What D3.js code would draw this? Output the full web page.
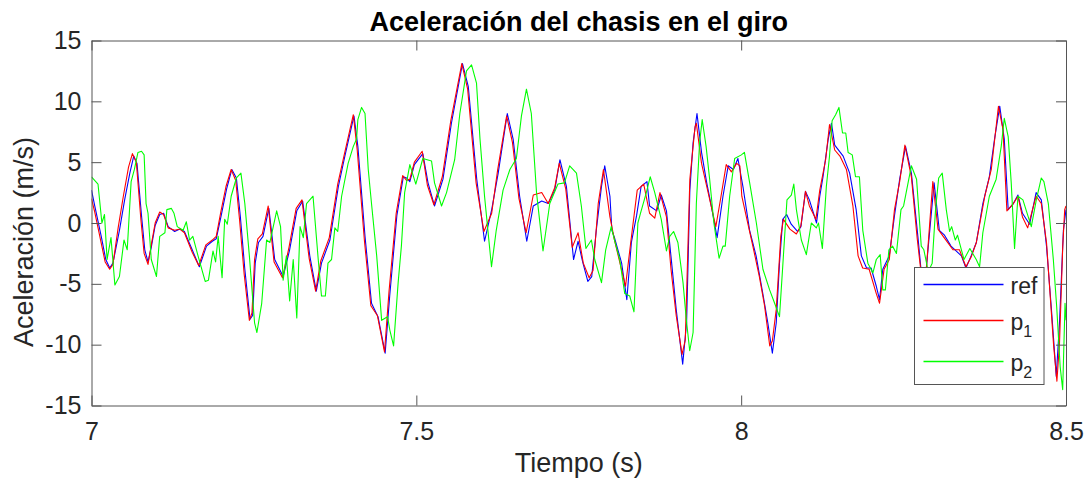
<!DOCTYPE html>
<html>
<head>
<meta charset="utf-8">
<script src="https://cdn.jsdelivr.net/npm/d3@7"></script>
<style>
  body { margin: 0; background: #fff; }
  svg { display: block; font-family: "Liberation Sans", Arial, Helvetica, sans-serif; }
</style>
</head>
<body>
<div id="chart"></div>
<script>
// values (time in s, acceleration in m/s)
var refTime = [7.000, 7.005, 7.015, 7.022, 7.028, 7.033, 7.043, 7.051, 7.059, 7.065, 7.070, 7.077, 7.082, 7.087, 7.092, 7.098, 7.105, 7.111, 7.118, 7.128, 7.136, 7.143, 7.155, 7.166, 7.177, 7.186, 7.192, 7.200, 7.208, 7.216, 7.223, 7.229, 7.236, 7.244, 7.248, 7.252, 7.257, 7.264, 7.273, 7.282, 7.295, 7.305, 7.316, 7.325, 7.336, 7.346, 7.354, 7.367, 7.380, 7.390, 7.404, 7.410, 7.421, 7.431, 7.441, 7.452, 7.459, 7.470, 7.480, 7.485, 7.490, 7.497, 7.510, 7.518, 7.528, 7.541, 7.554, 7.571, 7.580, 7.593, 7.605, 7.616, 7.626, 7.640, 7.649, 7.659, 7.670, 7.680, 7.693, 7.703, 7.713, 7.721, 7.731, 7.742, 7.749, 7.756, 7.764, 7.770, 7.777, 7.785, 7.790, 7.798, 7.801, 7.805, 7.816, 7.824, 7.831, 7.839, 7.846, 7.855, 7.859, 7.870, 7.877, 7.885, 7.893, 7.900, 7.910, 7.916, 7.921, 7.926, 7.932, 7.939, 7.947, 7.954, 7.963, 7.972, 7.980, 7.988, 7.995, 8.003, 8.013, 8.023, 8.034, 8.041, 8.048, 8.054, 8.059, 8.064, 8.070, 8.077, 8.087, 8.092, 8.099, 8.105, 8.116, 8.121, 8.126, 8.134, 8.139, 8.144, 8.157, 8.167, 8.177, 8.185, 8.193, 8.200, 8.208, 8.213, 8.218, 8.228, 8.236, 8.244, 8.253, 8.262, 8.272, 8.278, 8.285, 8.297, 8.305, 8.313, 8.323, 8.339, 8.346, 8.354, 8.362, 8.372, 8.382, 8.390, 8.398, 8.405, 8.411, 8.419, 8.426, 8.433, 8.444, 8.454, 8.462, 8.470, 8.478, 8.485, 8.490, 8.496, 8.500];
var refAccel = [2.7, 1.4, -1.1, -3.0, -3.7, -3.3, -0.6, 1.9, 4.1, 5.5, 4.9, 0.6, -2.2, -3.2, -2.0, -0.2, 0.7, 0.8, -0.3, -0.7, -0.5, -0.7, -2.2, -3.6, -1.9, -1.5, -1.3, 0.7, 2.8, 4.4, 3.7, 0.6, -3.8, -7.9, -7.6, -3.3, -1.6, -1.1, 1.2, -3.0, -4.4, -2.2, 1.0, 1.8, -2.7, -5.6, -3.3, -1.4, 3.0, 5.5, 8.8, 6.3, -1.1, -6.6, -7.7, -10.7, -6.0, 0.6, 3.8, 3.7, 3.4, 4.8, 5.7, 3.3, 1.4, 3.6, 8.2, 13.1, 11.2, 3.6, -1.5, 1.1, 4.1, 9.0, 6.9, 2.2, -1.5, 1.4, 1.8, 1.6, 2.7, 5.2, 3.0, -3.0, -1.5, -3.2, -4.8, -4.4, -0.6, 3.0, 4.7, 2.2, -0.6, -1.2, -3.3, -6.3, -1.6, 0.6, 3.0, 3.4, 1.4, 1.0, 2.3, 1.0, -3.3, -7.1, -11.6, -8.2, 2.7, 6.6, 9.0, 5.8, 3.3, 1.4, -1.2, 2.2, 4.7, 4.4, 5.3, 2.9, -0.6, -2.7, -6.0, -8.2, -10.7, -8.2, -3.3, 0.3, 0.7, -0.1, -0.7, -0.3, 2.6, 1.9, 0.0, 2.2, 3.8, 6.9, 8.2, 6.4, 5.5, 4.1, 1.1, -2.7, -3.7, -3.7, -5.2, -6.3, -3.8, -2.7, 0.6, 3.6, 6.3, 4.1, -1.1, -4.5, -3.7, 3.3, -0.6, -1.0, -1.9, -2.7, -3.7, -2.7, -1.6, 1.6, 3.8, 6.9, 9.6, 6.9, 1.1, 1.6, 2.3, 0.8, -0.1, 2.5, 1.9, -1.9, -7.4, -12.6, -8.2, -0.6, 1.1];

var p1Time = [7.000, 7.005, 7.014, 7.021, 7.028, 7.033, 7.041, 7.049, 7.057, 7.063, 7.069, 7.076, 7.081, 7.087, 7.092, 7.098, 7.105, 7.111, 7.118, 7.128, 7.136, 7.143, 7.155, 7.165, 7.176, 7.186, 7.192, 7.199, 7.207, 7.215, 7.222, 7.228, 7.235, 7.243, 7.247, 7.251, 7.256, 7.263, 7.272, 7.281, 7.294, 7.304, 7.315, 7.324, 7.335, 7.345, 7.353, 7.366, 7.379, 7.389, 7.403, 7.409, 7.420, 7.430, 7.440, 7.451, 7.458, 7.469, 7.479, 7.485, 7.490, 7.497, 7.509, 7.517, 7.527, 7.540, 7.553, 7.570, 7.579, 7.592, 7.604, 7.616, 7.625, 7.639, 7.648, 7.658, 7.669, 7.680, 7.693, 7.703, 7.713, 7.720, 7.730, 7.740, 7.749, 7.757, 7.766, 7.772, 7.780, 7.788, 7.798, 7.805, 7.822, 7.830, 7.840, 7.850, 7.859, 7.867, 7.875, 7.885, 7.892, 7.900, 7.909, 7.914, 7.921, 7.929, 7.931, 7.939, 7.947, 7.961, 7.969, 7.977, 7.985, 7.993, 7.998, 8.001, 8.008, 8.018, 8.028, 8.036, 8.044, 8.048, 8.054, 8.061, 8.065, 8.075, 8.085, 8.092, 8.099, 8.105, 8.115, 8.121, 8.130, 8.136, 8.144, 8.152, 8.162, 8.172, 8.180, 8.187, 8.197, 8.208, 8.213, 8.220, 8.228, 8.236, 8.244, 8.252, 8.262, 8.271, 8.278, 8.285, 8.295, 8.303, 8.311, 8.326, 8.336, 8.346, 8.354, 8.362, 8.375, 8.385, 8.396, 8.403, 8.409, 8.419, 8.426, 8.433, 8.441, 8.454, 8.462, 8.470, 8.481, 8.486, 8.490, 8.495, 8.498, 8.500];
var p1Accel = [2.0, 0.9, -1.4, -3.2, -3.8, -3.4, -0.4, 2.2, 4.6, 5.7, 5.0, 0.3, -2.5, -3.4, -1.8, 0.0, 0.9, 0.7, -0.4, -0.6, -0.5, -0.8, -2.4, -3.5, -1.8, -1.4, -1.1, 0.9, 3.0, 4.4, 3.5, 0.2, -4.2, -8.0, -7.4, -3.0, -1.3, -0.9, 1.4, -3.2, -4.5, -2.0, 1.2, 1.9, -2.9, -5.6, -3.1, -1.2, 3.2, 5.6, 8.9, 6.0, -1.4, -6.8, -7.6, -10.6, -5.6, 0.8, 3.9, 3.5, 3.6, 5.0, 5.9, 3.1, 1.5, 3.8, 8.4, 13.1, 11.0, 3.3, -0.7, 0.8, 4.3, 8.8, 6.6, 2.0, -0.8, 2.3, 2.5, 1.6, 2.9, 4.9, 2.8, -2.0, -0.8, -3.3, -4.5, -3.9, 1.6, 4.4, 0.5, -1.4, -5.2, -1.6, 2.7, 3.2, 0.8, 0.4, 2.5, 0.5, -3.8, -7.6, -10.8, -9.6, 3.6, 7.9, 8.2, 4.9, 3.0, -0.3, 2.2, 4.8, 4.2, 4.9, 4.7, 2.2, 0.5, -1.9, -4.4, -6.8, -10.1, -9.7, -7.1, -1.1, 0.3, -0.5, -0.9, -0.2, 2.6, 1.4, 0.3, 2.7, 5.2, 8.1, 6.0, 5.5, 4.4, 1.4, -2.7, -3.7, -3.8, -5.8, -6.6, -3.8, -3.0, 1.1, 3.4, 6.4, 3.8, -1.3, -4.6, -3.8, 3.4, -0.5, -1.1, -2.2, -2.2, -3.6, -2.8, -1.6, 2.2, 4.4, 9.6, 7.7, 1.0, 1.6, 2.2, 0.5, -0.4, 2.2, 1.6, -1.6, -10.1, -13.0, -9.9, -1.9, 1.1, 1.4];

var p2Time = [7.000, 7.010, 7.016, 7.020, 7.024, 7.030, 7.036, 7.043, 7.050, 7.055, 7.061, 7.066, 7.0715, 7.077, 7.081, 7.084, 7.087, 7.092, 7.100, 7.105, 7.113, 7.116, 7.123, 7.127, 7.132, 7.141, 7.146, 7.151, 7.156, 7.164, 7.175, 7.180, 7.187, 7.191, 7.195, 7.201, 7.205, 7.209, 7.215, 7.223, 7.230, 7.236, 7.243, 7.251, 7.2546, 7.262, 7.2695, 7.2746, 7.285, 7.291, 7.295, 7.300, 7.305, 7.3105, 7.316, 7.321, 7.326, 7.331, 7.341, 7.349, 7.354, 7.360, 7.364, 7.3695, 7.3746, 7.379, 7.385, 7.395, 7.403, 7.408, 7.410, 7.4157, 7.421, 7.426, 7.431, 7.439, 7.4466, 7.4557, 7.4592, 7.465, 7.472, 7.477, 7.482, 7.490, 7.4992, 7.510, 7.5234, 7.528, 7.5388, 7.5465, 7.559, 7.567, 7.5772, 7.585, 7.5926, 7.598, 7.605, 7.6157, 7.623, 7.6335, 7.644, 7.654, 7.6618, 7.6695, 7.677, 7.685, 7.695, 7.7054, 7.718, 7.728, 7.736, 7.7465, 7.754, 7.761, 7.7695, 7.7746, 7.785, 7.7915, 7.800, 7.805, 7.813, 7.8208, 7.8285, 7.835, 7.841, 7.845, 7.854, 7.860, 7.867, 7.877, 7.885, 7.890, 7.896, 7.9026, 7.9105, 7.9157, 7.9208, 7.926, 7.931, 7.936, 7.940, 7.946, 7.9515, 7.958, 7.966, 7.972, 7.9755, 7.9823, 7.990, 8.0003, 8.005, 8.0131, 8.0234, 8.0335, 8.0438, 8.0515, 8.059, 8.0643, 8.0705, 8.0772, 8.081, 8.085, 8.0926, 8.1003, 8.108, 8.1157, 8.119, 8.125, 8.1311, 8.136, 8.140, 8.1454, 8.1505, 8.156, 8.161, 8.1646, 8.171, 8.176, 8.182, 8.1872, 8.195, 8.2028, 8.208, 8.214, 8.218, 8.222, 8.2274, 8.233, 8.239, 8.246, 8.250, 8.262, 8.270, 8.2772, 8.2812, 8.288, 8.294, 8.2992, 8.304, 8.3095, 8.3157, 8.3208, 8.324, 8.3296, 8.333, 8.339, 8.343, 8.352, 8.3618, 8.367, 8.372, 8.382, 8.3925, 8.4003, 8.405, 8.411, 8.4157, 8.4208, 8.426, 8.4337, 8.439, 8.4466, 8.4543, 8.462, 8.466, 8.4728, 8.4805, 8.4857, 8.491, 8.4949, 8.4985, 8.500];
var p2Accel = [3.8, 3.2, 0.0, 0.7, -3.0, -1.2, -5.1, -4.4, -1.4, -2.2, 3.4, 4.4, 5.8, 5.9, 5.6, 1.6, 0.8, -3.0, -4.4, -1.1, -0.8, 1.1, 1.2, 0.8, -0.3, -0.6, 0.1, -1.4, -1.1, -2.7, -4.8, -4.7, -2.3, -3.2, -1.1, -4.5, 0.3, -0.1, 2.2, 3.7, 4.1, 1.6, -2.7, -8.2, -9.0, -6.6, -1.4, -1.6, 1.0, -0.3, -4.7, -2.7, -6.4, -3.0, -7.8, -0.3, -1.2, 1.6, 2.2, -3.0, -6.0, -6.0, -3.3, -3.0, -0.4, -0.7, 2.2, 4.9, 6.3, 6.9, 8.5, 9.5, 9.0, 4.4, 1.6, -2.7, -8.0, -7.7, -8.8, -10.1, -4.9, -1.9, 2.5, 4.8, 3.2, 5.3, 5.1, 3.3, 1.4, 2.5, 5.2, 9.0, 12.5, 13.0, 11.5, 6.9, 2.2, -3.6, -0.6, 2.7, 4.4, 5.3, 8.8, 11.0, 9.0, 2.5, -2.3, 1.6, 3.2, 3.3, 4.7, 4.1, 1.4, -2.1, -1.4, -3.0, -4.9, -2.2, -0.3, -1.4, -3.0, -5.8, -6.0, -7.3, 0.0, 0.8, 2.5, 3.8, 2.5, 0.3, -2.3, -1.1, -0.7, -1.6, -4.9, -8.0, -10.5, -9.0, 1.6, 6.6, 8.5, 6.3, 3.6, 0.0, -2.9, -1.9, -1.9, 2.2, 5.3, 5.6, 5.8, 3.3, 0.0, -3.8, -5.5, -6.6, -7.7, -3.3, 1.9, 2.3, 3.2, 1.1, -1.4, -2.6, 0.0, -0.4, 0.0, -2.1, 3.0, 5.5, 8.4, 8.9, 9.5, 7.4, 7.4, 5.8, 5.6, 3.8, 3.8, -0.6, -3.3, -4.1, -3.0, -2.6, -5.5, -5.5, -2.2, -1.9, -2.5, 1.1, 1.4, 4.7, 3.6, -1.9, -2.2, -4.0, -3.3, 1.1, 3.7, 4.1, 1.1, -0.7, -0.3, -1.4, -1.0, -2.2, -3.0, -2.1, -3.0, -3.6, -0.8, 2.2, 3.6, 6.3, 8.6, 7.1, 3.3, -2.1, 2.2, 1.9, 1.0, -0.3, 1.9, 3.7, 3.4, 1.6, -3.0, -6.9, -11.8, -13.7, -6.6, -8.0];

var yTicks = [-15, -10, -5, 0, 5, 10, 15];
var xTicks = [7, 7.5, 8, 8.5];
var legendLabels = ["ref", "p1", "p2"];

var width = 1088;
var height = 486;
var margin = { top: 40.5, right: 22, bottom: 80.5, left: 91.5 };
var plotW = width - margin.left - margin.right;
var plotH = height - margin.top - margin.bottom;

var axisColor = "#262626";
var boxColor = "#555555";

var svg = d3
  .select("#chart")
  .append("svg")
  .attr("width", width)
  .attr("height", height);

var x = d3.scaleLinear().domain([7, 8.5]).range([0, plotW]);
var y = d3.scaleLinear().domain([-15, 15]).range([plotH, 0]);

var g = svg
  .append("g")
  .attr("transform", "translate(" + margin.left + "," + margin.top + ")");

svg
  .append("defs")
  .append("clipPath")
  .attr("id", "plot-clip")
  .append("rect")
  .attr("width", plotW)
  .attr("height", plotH);

// series, drawn in the same order as the legend
var series = [
  { time: refTime, accel: refAccel, color: "#0000ff" },
  { time: p1Time, accel: p1Accel, color: "#ff0000" },
  { time: p2Time, accel: p2Accel, color: "#00ff00" },
];

var line = d3
  .line()
  .x(function (d) {
    return x(d[0]);
  })
  .y(function (d) {
    return y(d[1]);
  });

var lines = g.append("g").attr("clip-path", "url(#plot-clip)");

lines
  .selectAll("path")
  .data(series)
  .enter()
  .append("path")
  .attr("fill", "none")
  .attr("stroke-width", 1.1)
  .attr("stroke-linejoin", "round")
  .attr("stroke", function (d) {
    return d.color;
  })
  .attr("d", function (d) {
    return line(d3.zip(d.time, d.accel));
  });

// axes with inward ticks on all four sides
function styleAxis(sel) {
  sel.select(".domain").attr("stroke", boxColor).attr("stroke-width", 1);
  sel.selectAll(".tick line").attr("stroke", boxColor).attr("stroke-width", 1);
  sel
    .selectAll(".tick text")
    .attr("fill", axisColor)
    .style("font-size", "25px")
    .style("font-family", '"Liberation Sans", Arial, sans-serif');
}

g.append("g")
  .attr("transform", "translate(0," + plotH + ")")
  .call(
    d3.axisBottom(x).tickValues(xTicks).tickSizeInner(-10).tickSizeOuter(0).tickPadding(17)
      .tickFormat(d3.format("~g"))
  )
  .call(styleAxis);

g.append("g")
  .call(d3.axisTop(x).tickValues(xTicks).tickSizeInner(-10).tickSizeOuter(0).tickFormat(""))
  .call(styleAxis);

g.append("g")
  .call(
    d3.axisLeft(y).tickValues(yTicks).tickSizeInner(-10).tickSizeOuter(0).tickPadding(10)
      .tickFormat(d3.format("~g"))
  )
  .call(styleAxis);

g.append("g")
  .attr("transform", "translate(" + plotW + ",0)")
  .call(d3.axisRight(y).tickValues(yTicks).tickSizeInner(-10).tickSizeOuter(0).tickFormat(""))
  .call(styleAxis);

// minus signs like the reference (hyphen)
g.selectAll(".tick text").text(function () {
  return d3.select(this).text().replace("\u2212", "-");
});

// titles
svg
  .append("text")
  .attr("x", margin.left + plotW / 2)
  .attr("y", 31)
  .attr("text-anchor", "middle")
  .attr("fill", "#000")
  .style("font-size", "27px")
  .style("font-weight", "bold")
  .text("Aceleración del chasis en el giro");

svg
  .append("text")
  .attr("x", margin.left + plotW / 2)
  .attr("y", 472)
  .attr("text-anchor", "middle")
  .attr("fill", axisColor)
  .style("font-size", "27px")
  .text("Tiempo (s)");

svg
  .append("text")
  .attr("transform", "translate(33," + 242 + ") rotate(-90)")
  .attr("text-anchor", "middle")
  .attr("fill", axisColor)
  .style("font-size", "27px")
  .text("Aceleración (m/s)");

// legend
var legend = svg.append("g").attr("transform", "translate(914.5,267.5)");

legend
  .append("rect")
  .attr("width", 129.5)
  .attr("height", 117)
  .attr("fill", "#fff")
  .attr("stroke", boxColor)
  .attr("stroke-width", 1);

var rowY = [17, 53, 94];

var rows = legend
  .selectAll(".legend-row")
  .data(legendLabels)
  .enter()
  .append("g")
  .attr("class", "legend-row")
  .attr("transform", function (d, i) {
    return "translate(0," + rowY[i] + ")";
  });

rows
  .append("line")
  .attr("x1", 9)
  .attr("x2", 89)
  .attr("stroke-width", 1.3)
  .attr("stroke", function (d) {
    return series[legendLabels.indexOf(d)].color;
  });

var labels = rows
  .append("text")
  .attr("x", 96)
  .attr("y", 9)
  .attr("fill", axisColor)
  .style("font-size", "23px");

labels.each(function (d) {
  var t = d3.select(this);
  if (d === "ref") {
    t.text(d);
  } else {
    t.append("tspan").text(d.charAt(0));
    t.append("tspan").attr("dy", 7).style("font-size", "16px").text(d.slice(1));
  }
});
</script>
</body>
</html>
